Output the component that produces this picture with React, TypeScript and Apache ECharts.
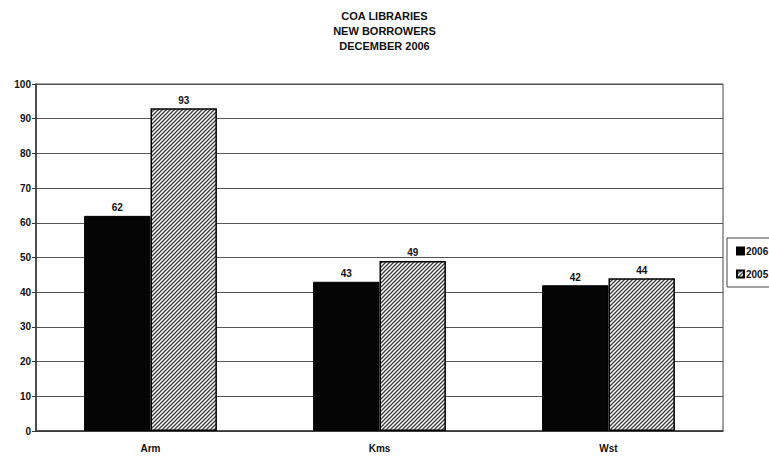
import React, { useEffect, useRef } from "react";
import * as echarts from "echarts";

const categories = ["Arm", "Kms", "Wst"];
const values2006 = [62, 43, 42];
const values2005 = [93, 49, 44];
const yTicks = [0, 10, 20, 30, 40, 50, 60, 70, 80, 90, 100];

// Fine diagonal hatch tile used as the fill of the 2005 bars
function hatchTile(): string {
  const size = 4;
  const svg =
    `<svg xmlns="http://www.w3.org/2000/svg" width="${size}" height="${size}">` +
    `<rect width="${size}" height="${size}" fill="#ffffff"/>` +
    `<path d="M-1,1 L1,-1 M0,4 L4,0 M3,5 L5,3" stroke="#3a3a3a" stroke-width="1.3"/>` +
    `</svg>`;
  return "data:image/svg+xml;charset=utf-8," + encodeURIComponent(svg);
}

export default function App() {
  const ref = useRef<HTMLDivElement>(null);

  useEffect(() => {
    if (!ref.current) return;
    const chart = echarts.init(ref.current, null, { renderer: "svg" });
    const hatch: any = {
      image: hatchTile(),
      repeat: "repeat",
      imageWidth: 4,
      imageHeight: 4,
    };
    const font = "Arial, 'Liberation Sans', sans-serif";
    const labelStyle = {
      show: true,
      position: "top" as const,
      distance: 3,
      fontFamily: font,
      fontWeight: "bold" as const,
      fontSize: 10,
      color: "#111",
    };
    chart.setOption({
      animation: false,
      backgroundColor: "#ffffff",
      title: {
        text: "COA LIBRARIES\nNEW BORROWERS\nDECEMBER 2006",
        left: "center",
        top: 3,
        textStyle: {
          fontFamily: font,
          fontWeight: "bold",
          fontSize: 11,
          lineHeight: 15,
          color: "#111",
        },
      },
      legend: {
        orient: "vertical",
        left: 727,
        top: 238,
        itemWidth: 7,
        itemHeight: 7,
        itemGap: 13,
        padding: [8, 12, 8, 9],
        borderColor: "#444",
        borderWidth: 1,
        icon: "rect",
        textStyle: {
          fontFamily: font,
          fontWeight: "bold",
          fontSize: 10,
          color: "#111",
          padding: [0, 0, 0, -3],
        },
        data: ["2006", "2005"],
      },
      grid: {
        left: 36,
        right: 46,
        top: 84,
        bottom: 30,
        show: true,
        borderColor: "#444",
        borderWidth: 1,
      },
      xAxis: {
        type: "category",
        data: categories,
        axisLine: { lineStyle: { color: "#333", width: 1.5 } },
        axisTick: { show: false },
        axisLabel: {
          margin: 12,
          fontFamily: font,
          fontWeight: "bold",
          fontSize: 10,
          color: "#111",
        },
      },
      yAxis: {
        type: "value",
        min: yTicks[0],
        max: yTicks[yTicks.length - 1],
        interval: 10,
        axisLine: { show: true, lineStyle: { color: "#333", width: 1.5 } },
        axisTick: { show: true, length: 4, lineStyle: { color: "#333" } },
        axisLabel: {
          margin: 5,
          fontFamily: font,
          fontWeight: "bold",
          fontSize: 10,
          color: "#111",
        },
        splitLine: { lineStyle: { color: "#555", width: 1 } },
      },
      series: [
        {
          name: "2006",
          type: "bar",
          data: values2006,
          barGap: "0%",
          barCategoryGap: "42%",
          itemStyle: { color: "#050505", borderColor: "#000", borderWidth: 1 },
          label: labelStyle,
        },
        {
          name: "2005",
          type: "bar",
          data: values2005,
          itemStyle: { color: hatch, borderColor: "#000", borderWidth: 1.5 },
          label: labelStyle,
        },
      ],
    });
    return () => chart.dispose();
  }, []);

  return <div ref={ref} style={{ width: 769, height: 461, position: "absolute", left: 0, top: 0 }} />;
}
